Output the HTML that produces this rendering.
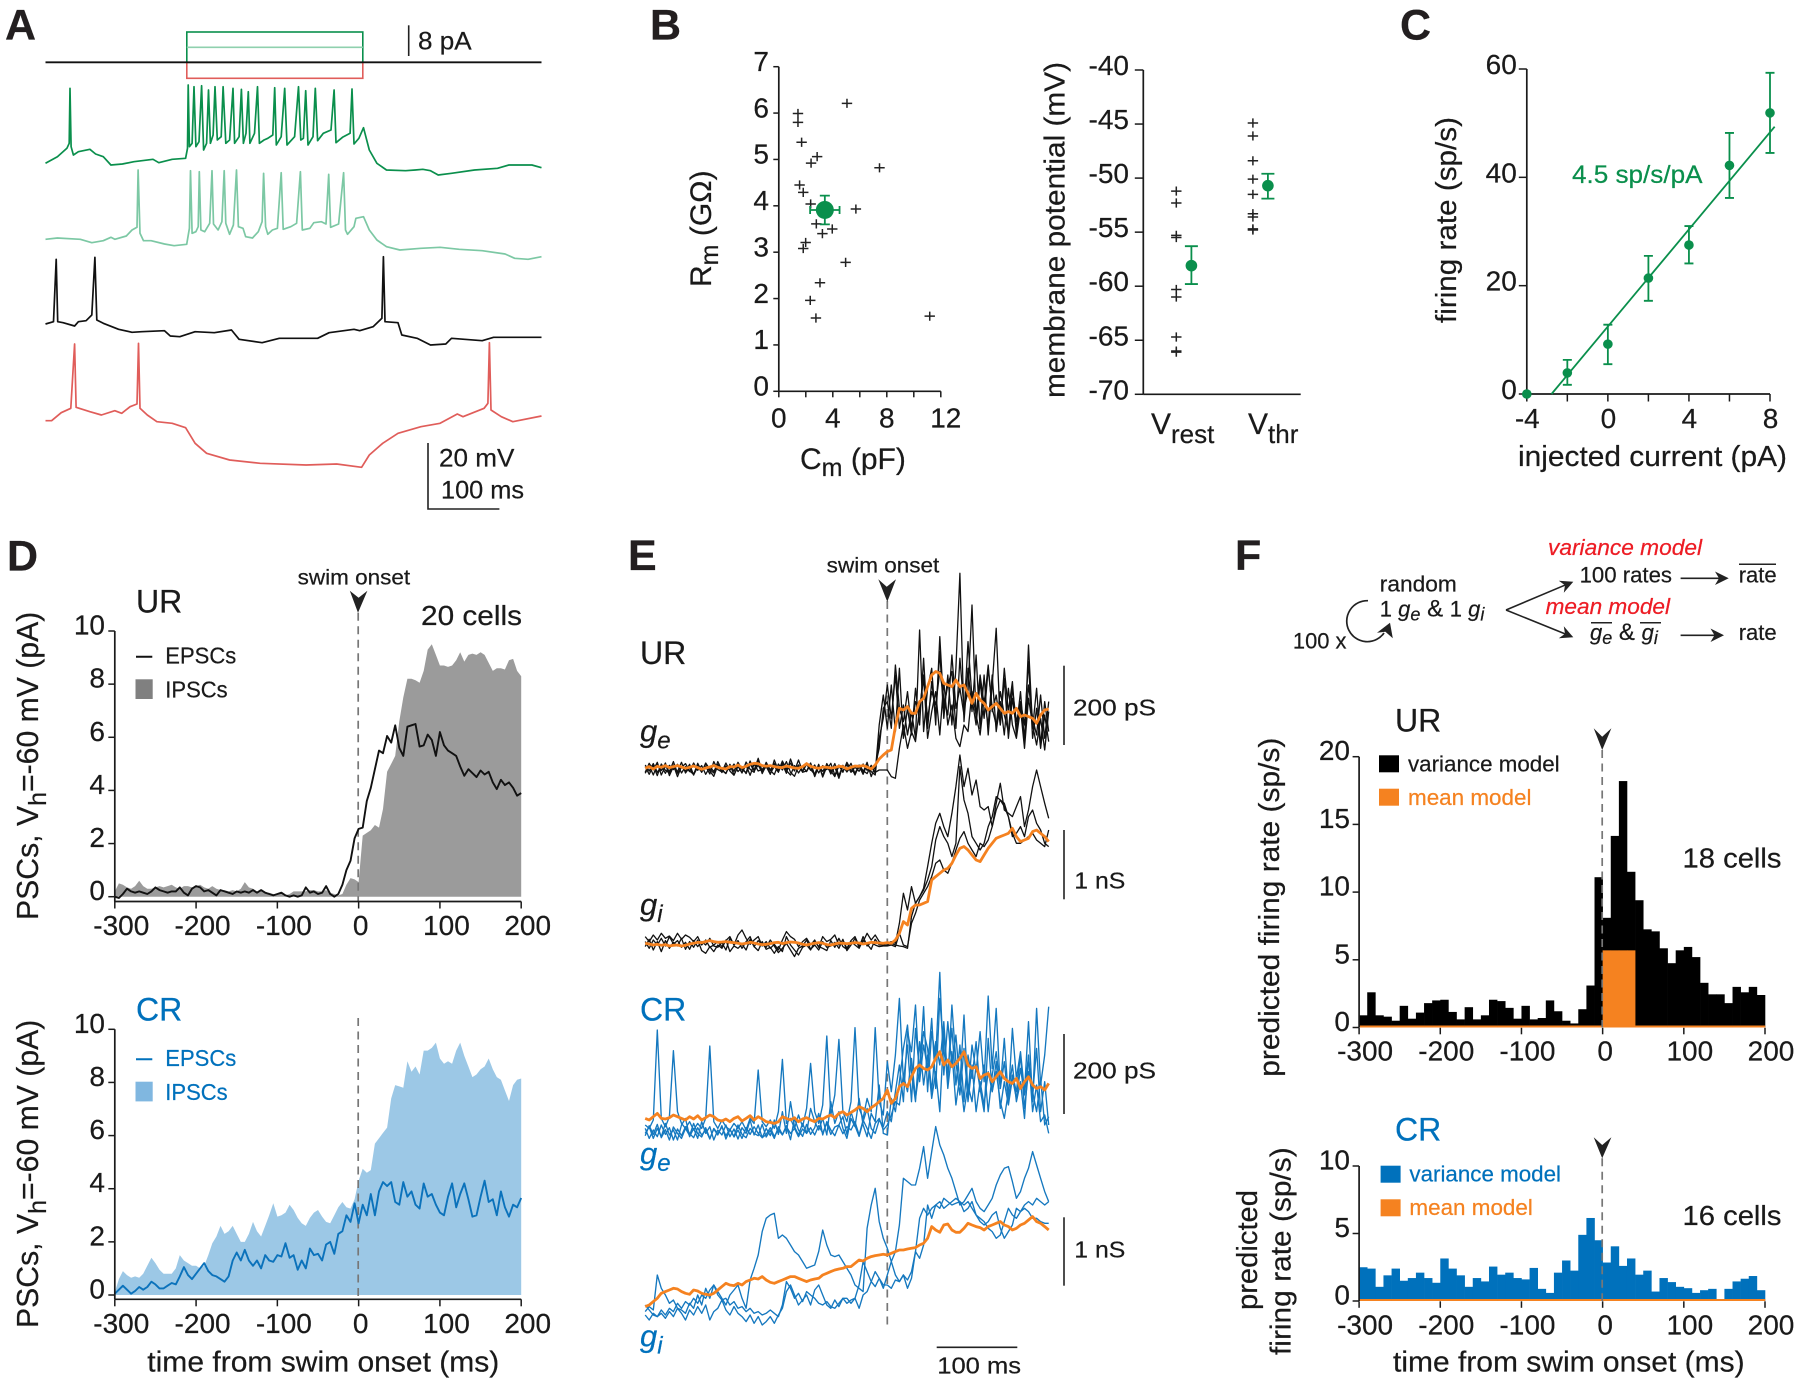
<!DOCTYPE html>
<html lang="en">
<head>
<meta charset="utf-8">
<title>Conductance and firing rate figure</title>
<style>
html,body{margin:0;padding:0;background:#fff;}
svg{display:block;font-family:"Liberation Sans",Arial,sans-serif;fill:#1a1a1a;}
text{stroke:#1a1a1a;stroke-width:.22px;}
.letter{font-weight:bold;font-size:43px;fill:#231f20;}
.blue{fill:#0071bc;stroke:#0071bc;}
.orange{fill:#f58220;stroke:#f58220;}
.red{fill:#ed1c24;stroke:#ed1c24;font-style:italic;}
.green{fill:#0a8f4c;stroke:#0a8f4c;}
.it{font-style:italic;}
</style>
</head>
<body>
<svg id="figure" xmlns="http://www.w3.org/2000/svg" width="1800" height="1385" viewBox="0 0 1800 1385">
<rect x="0" y="0" width="1800" height="1385" fill="#fff"/>

<!-- PANEL A -->
<g id="panel-a">
  <text class="letter" x="5" y="39.5">A</text>
  <rect x="186.8" y="32" width="176" height="30.3" fill="none" stroke="#0a8f4c" stroke-width="1.6"/>
  <line x1="186.8" y1="47.3" x2="362.8" y2="47.3" stroke="#8fd0ae" stroke-width="1.6"/>
  <rect x="186.8" y="62.3" width="176" height="16" fill="none" stroke="#e05d5a" stroke-width="1.6"/>
  <line x1="45.5" y1="62.3" x2="541.5" y2="62.3" stroke="#111" stroke-width="1.8"/>
  <line x1="408.7" y1="25.3" x2="408.7" y2="56" stroke="#222" stroke-width="1.6"/>
  <text x="418" y="49.3" font-size="25" textLength="53.6" lengthAdjust="spacingAndGlyphs">8 pA</text>
  <g id="a-traces"></g>
  <path d="M428 443V509H499.4" fill="none" stroke="#222" stroke-width="1.6"/>
  <text x="439" y="466.7" font-size="25" textLength="75.4" lengthAdjust="spacingAndGlyphs">20 mV</text>
  <text x="441" y="498.3" font-size="25" textLength="83" lengthAdjust="spacingAndGlyphs">100 ms</text>
</g>

<!-- PANEL B -->
<g id="panel-b">
  <text class="letter" x="650" y="39.5">B</text>
  <g id="b-left"></g>
  <g id="b-right"></g>
  <text x="800" y="469" font-size="30">C<tspan dy="7" font-size="25">m</tspan><tspan dy="-7"> (pF)</tspan></text>
  <g transform="translate(711,287) rotate(-90)"><text x="0" y="0" font-size="30">R<tspan dy="7" font-size="25">m</tspan><tspan dy="-7"> (GΩ)</tspan></text></g>
  <g transform="translate(1064.5,398) rotate(-90)"><text x="0" y="0" font-size="29" textLength="336" lengthAdjust="spacingAndGlyphs">membrane potential (mV)</text></g>
  <text x="1151" y="434" font-size="30">V<tspan dy="9" font-size="26">rest</tspan></text>
  <text x="1248" y="434" font-size="30">V<tspan dy="9" font-size="26">thr</tspan></text>
</g>

<!-- PANEL C -->
<g id="panel-c">
  <text class="letter" x="1400" y="39.5">C</text>
  <g id="c-plot"></g>
  <text class="green" x="1572" y="183" font-size="25" textLength="130.5" lengthAdjust="spacingAndGlyphs">4.5 sp/s/pA</text>
  <text x="1518" y="466" font-size="29" textLength="269" lengthAdjust="spacingAndGlyphs">injected current (pA)</text>
  <g transform="translate(1456,323) rotate(-90)"><text x="0" y="0" font-size="29" textLength="206" lengthAdjust="spacingAndGlyphs">firing rate (sp/s)</text></g>
</g>

<!-- PANEL D -->
<g id="panel-d">
  <text class="letter" x="7" y="570.5">D</text>
  <g id="d-ur"></g>
  <g id="d-cr"></g>
  <text x="136" y="612.7" font-size="32">UR</text>
  <text x="297.7" y="584.3" font-size="21" textLength="112.5" lengthAdjust="spacingAndGlyphs">swim onset</text>
  <polygon points="358,612.7 349.8,590.7 358.6,597.7 367.4,590.7" fill="#222"/>
  <text x="421" y="625" font-size="28" textLength="101" lengthAdjust="spacingAndGlyphs">20 cells</text>
  <line x1="136" y1="656.7" x2="152.3" y2="656.7" stroke="#111" stroke-width="2"/>
  <text x="165.3" y="663.3" font-size="23" textLength="71" lengthAdjust="spacingAndGlyphs">EPSCs</text>
  <rect x="135.5" y="679.3" width="17.2" height="19.7" fill="#808080"/>
  <text x="165.3" y="697.7" font-size="23" textLength="62.4" lengthAdjust="spacingAndGlyphs">IPSCs</text>
  <g transform="translate(38,920) rotate(-90)"><text x="0" y="0" font-size="30.2">PSCs,  V<tspan dy="8" font-size="25">h</tspan><tspan dy="-8">=-60 mV (pA)</tspan></text></g>

  <text class="blue" x="136" y="1020.7" font-size="32">CR</text>
  <line x1="136" y1="1059.3" x2="152.3" y2="1059.3" stroke="#0071bc" stroke-width="2"/>
  <text class="blue" x="165.3" y="1066" font-size="23" textLength="71" lengthAdjust="spacingAndGlyphs">EPSCs</text>
  <rect x="135.5" y="1081.7" width="17.2" height="19.7" fill="#80b7e0"/>
  <text class="blue" x="165.3" y="1100" font-size="23" textLength="62.4" lengthAdjust="spacingAndGlyphs">IPSCs</text>
  <g transform="translate(38,1328) rotate(-90)"><text x="0" y="0" font-size="30.2">PSCs,  V<tspan dy="8" font-size="25">h</tspan><tspan dy="-8">=-60 mV (pA)</tspan></text></g>
  <text x="147.3" y="1371.7" font-size="29" textLength="352" lengthAdjust="spacingAndGlyphs">time from swim onset (ms)</text>
</g>

<!-- PANEL E -->
<g id="panel-e">
  <text class="letter" x="628" y="570">E</text>
  <text x="826.7" y="572.7" font-size="21" textLength="112.6" lengthAdjust="spacingAndGlyphs">swim onset</text>
  <line x1="887.3" y1="601" x2="887.3" y2="1326.7" stroke="#777" stroke-width="1.7" stroke-dasharray="8 5.5"/>
  <polygon points="887.3,601.7 878.3,579.3 886.7,586.7 896,579.3" fill="#222"/>
  <g id="e-traces"></g>
  <text x="640" y="664" font-size="32">UR</text>
  <text class="it" x="640" y="741.7" font-size="31">g<tspan dy="7" font-size="24">e</tspan></text>
  <text class="it" x="640" y="915" font-size="31">g<tspan dy="7" font-size="24">i</tspan></text>
  <line x1="1064" y1="665.7" x2="1064" y2="745" stroke="#222" stroke-width="1.6"/>
  <text x="1073" y="715.7" font-size="23" textLength="83" lengthAdjust="spacingAndGlyphs">200 pS</text>
  <line x1="1064" y1="830" x2="1064" y2="899.3" stroke="#222" stroke-width="1.6"/>
  <text x="1074.3" y="888.3" font-size="23" textLength="51" lengthAdjust="spacingAndGlyphs">1 nS</text>
  <text class="blue" x="640" y="1020.7" font-size="32">CR</text>
  <text class="it blue" x="640" y="1164" font-size="31">g<tspan dy="7" font-size="24">e</tspan></text>
  <text class="it blue" x="640" y="1346.7" font-size="31">g<tspan dy="7" font-size="24">i</tspan></text>
  <line x1="1064" y1="1034" x2="1064" y2="1114" stroke="#222" stroke-width="1.6"/>
  <text x="1073" y="1078.3" font-size="23" textLength="83" lengthAdjust="spacingAndGlyphs">200 pS</text>
  <line x1="1064" y1="1217.3" x2="1064" y2="1285.7" stroke="#222" stroke-width="1.6"/>
  <text x="1074.3" y="1257.7" font-size="23" textLength="51" lengthAdjust="spacingAndGlyphs">1 nS</text>
  <line x1="936.7" y1="1347.3" x2="1017.3" y2="1347.3" stroke="#222" stroke-width="1.6"/>
  <text x="937.3" y="1373.3" font-size="23" textLength="83.7" lengthAdjust="spacingAndGlyphs">100 ms</text>
</g>

<!-- PANEL F -->
<g id="panel-f">
  <text class="letter" x="1235" y="570">F</text>
  <g id="f-diagram">
    <text class="red" x="1548" y="555" font-size="22" textLength="154" lengthAdjust="spacingAndGlyphs">variance model</text>
    <text x="1579.6" y="582.7" font-size="22" textLength="92.4" lengthAdjust="spacingAndGlyphs">100 rates</text>
    <line x1="1680.6" y1="578.3" x2="1720" y2="578.3" stroke="#222" stroke-width="1.6"/>
    <polygon points="1728.7,578.3 1715,571.5 1719,578.3 1715,585" fill="#222"/>
    <text x="1738.7" y="582.7" font-size="22" textLength="38" lengthAdjust="spacingAndGlyphs">rate</text>
    <line x1="1739" y1="564.3" x2="1776" y2="564.3" stroke="#222" stroke-width="1.5"/>
    <text class="red" x="1545.6" y="614" font-size="22" textLength="124.4" lengthAdjust="spacingAndGlyphs">mean model</text>
    <text x="1590" y="640" font-size="22"><tspan class="it">g</tspan><tspan class="it" dy="4" font-size="18">e</tspan><tspan dy="-4" font-size="24"> &amp; </tspan><tspan class="it">g</tspan><tspan class="it" dy="4" font-size="18">i</tspan></text>
    <line x1="1591" y1="622.7" x2="1612" y2="622.7" stroke="#222" stroke-width="1.5"/>
    <line x1="1640" y1="622.7" x2="1661" y2="622.7" stroke="#222" stroke-width="1.5"/>
    <line x1="1680.6" y1="635.3" x2="1716" y2="635.3" stroke="#222" stroke-width="1.6"/>
    <polygon points="1724,635.3 1710.5,628.5 1714.5,635.3 1710.5,642" fill="#222"/>
    <text x="1738.7" y="640" font-size="22" textLength="38" lengthAdjust="spacingAndGlyphs">rate</text>
    <line x1="1506" y1="610" x2="1566" y2="584.7" stroke="#222" stroke-width="1.6"/>
    <polygon points="1573.3,581.7 1563.8,592.7 1565,585.2 1558.8,580.7" fill="#222"/>
    <line x1="1506" y1="610" x2="1566" y2="634.3" stroke="#222" stroke-width="1.6"/>
    <polygon points="1573.3,637.3 1558.8,638.3 1565,633.8 1563.8,626.3" fill="#222"/>
    <text x="1379.8" y="591.7" font-size="22" textLength="77" lengthAdjust="spacingAndGlyphs">random</text>
    <text x="1379.8" y="616.7" font-size="22">1 <tspan class="it">g</tspan><tspan class="it" dy="4" font-size="18">e</tspan><tspan dy="-4" font-size="24"> &amp; </tspan><tspan>1 </tspan><tspan class="it">g</tspan><tspan class="it" dy="4" font-size="18">i</tspan></text>
    <text x="1292.9" y="648.3" font-size="22" textLength="53.6" lengthAdjust="spacingAndGlyphs">100 x</text>
    <path d="M1368 600.7A20.5 20.5 0 1 0 1384 633" fill="none" stroke="#222" stroke-width="1.7"/>
    <polygon points="1390,622.7 1392.8,638.3 1385.4,631.7 1377,632.7" fill="#222"/>
  </g>
  <g id="f-ur"></g>
  <g id="f-cr"></g>
  <text x="1395" y="731.7" font-size="32">UR</text>
  <rect x="1379" y="755.3" width="20" height="17" fill="#000"/>
  <text x="1408" y="771.7" font-size="22" textLength="151.6" lengthAdjust="spacingAndGlyphs">variance model</text>
  <rect x="1379" y="788.7" width="20" height="17" fill="#f58220"/>
  <text class="orange" x="1408" y="805" font-size="22" textLength="123.5" lengthAdjust="spacingAndGlyphs">mean model</text>
  <text x="1682.5" y="867.7" font-size="28" textLength="99" lengthAdjust="spacingAndGlyphs">18 cells</text>
  <g transform="translate(1279,1076.7) rotate(-90)"><text x="0" y="0" font-size="29" textLength="339" lengthAdjust="spacingAndGlyphs">predicted firing rate (sp/s)</text></g>
  <text class="blue" x="1395" y="1140.7" font-size="32">CR</text>
  <rect x="1380.6" y="1165.7" width="20" height="17" fill="#0071bc"/>
  <text class="blue" x="1409.4" y="1181.7" font-size="22" textLength="151.6" lengthAdjust="spacingAndGlyphs">variance model</text>
  <rect x="1380.6" y="1199.3" width="20" height="17" fill="#f58220"/>
  <text class="orange" x="1409.4" y="1215" font-size="22" textLength="123.5" lengthAdjust="spacingAndGlyphs">mean model</text>
  <text x="1682.5" y="1225" font-size="28" textLength="99" lengthAdjust="spacingAndGlyphs">16 cells</text>
  <g transform="translate(1257,1310) rotate(-90)"><text x="0" y="0" font-size="29" textLength="120" lengthAdjust="spacingAndGlyphs">predicted</text></g>
  <g transform="translate(1290.3,1355) rotate(-90)"><text x="0" y="0" font-size="29" textLength="207.7" lengthAdjust="spacingAndGlyphs">firing rate (sp/s)</text></g>
  <text x="1393" y="1371.7" font-size="29" textLength="351.6" lengthAdjust="spacingAndGlyphs">time from swim onset (ms)</text>
</g>
</svg>

<script>
// ---------- Panel A: membrane traces, [sample, 0.1 mV above trace start] ----------
const aTraceDarkGreen = [[0,0],[31,20],[56,45],[62,60],[64,225],[67,50],[73,25],[86,35],[116,42],[131,28],[151,20],[171,-5],[201,-2],[231,5],[281,12],[296,2],[331,12],[366,15],[371,45],[373,235],[376,50],[383,60],[388,230],[393,50],[401,65],[408,233],[413,40],[421,60],[426,220],[431,60],[438,85],[443,230],[449,70],[459,80],[464,230],[471,60],[481,70],[490,225],[494,60],[506,80],[512,222],[517,60],[524,90],[530,215],[534,60],[546,90],[554,230],[559,60],[571,70],[581,75],[594,85],[599,227],[603,55],[616,80],[625,225],[631,55],[651,80],[661,230],[667,70],[674,75],[680,218],[686,55],[699,80],[705,225],[711,68],[726,90],[746,100],[754,220],[759,62],[776,78],[796,90],[801,223],[806,58],[819,75],[831,107],[846,40],[866,0],[891,-20],[941,-22],[966,-20],[986,-18],[1006,-22],[1026,-35],[1061,-30],[1121,-20],[1181,-15],[1211,-5],[1271,-5],[1296,-13]];
const aTraceLightGreen = [[0,-3],[31,1],[91,-3],[121,-13],[151,-7],[171,3],[181,-3],[211,7],[226,25],[239,33],[242,205],[247,15],[256,-7],[276,-7],[311,-17],[336,-22],[369,-18],[376,30],[379,203],[383,15],[393,20],[399,35],[402,200],[406,25],[416,20],[429,45],[435,203],[439,43],[451,25],[461,50],[467,203],[471,45],[481,12],[491,40],[499,205],[504,35],[516,30],[523,5],[541,1],[556,20],[566,50],[570,195],[575,35],[581,12],[593,25],[606,30],[616,197],[621,27],[641,35],[656,45],[666,200],[671,25],[691,30],[701,47],[721,50],[733,43],[740,192],[745,33],[766,43],[779,197],[784,25],[789,12],[806,35],[811,60],[831,65],[846,25],[866,-5],[891,-25],[926,-35],[981,-30],[1031,-27],[1081,-33],[1141,-37],[1201,-47],[1226,-60],[1261,-63],[1296,-55]];
const aTraceBlack = [[0,0],[21,7],[28,194],[32,7],[46,4],[76,-6],[86,7],[106,10],[121,27],[129,200],[134,12],[151,2],[191,-16],[226,-25],[251,-23],[311,-20],[326,-36],[351,-38],[391,-23],[441,-26],[486,-18],[506,-46],[566,-56],[611,-43],[711,-43],[741,-26],[806,-16],[821,-20],[856,-8],[879,17],[883,202],[887,7],[921,4],[931,-33],[971,-43],[1006,-63],[1046,-60],[1061,-43],[1141,-50],[1171,-40],[1296,-40]];
const aTraceRed = [[0,0],[16,0],[41,24],[66,37],[76,230],[80,40],[116,27],[146,17],[181,30],[199,22],[221,42],[239,50],[243,232],[247,37],[266,17],[291,-3],[331,-8],[366,-21],[391,-68],[421,-98],[481,-118],[561,-128],[681,-133],[761,-130],[826,-140],[846,-103],[881,-68],[921,-38],[981,-18],[1031,-8],[1076,20],[1091,12],[1146,37],[1156,52],[1160,234],[1164,32],[1191,12],[1221,-3],[1296,14]];

// ---------- Panel B ----------
const bCm = [5.05,1.42,1.42,1.69,2.84,2.39,7.46,1.54,1.81,2.36,5.71,2.78,3.96,3.23,1.99,1.81,4.95,3.05,2.33,2.75,11.18];
const bRm = [6.21,5.99,5.8,5.37,5.06,4.92,4.82,4.45,4.29,4.04,3.93,3.61,3.5,3.4,3.21,3.08,2.78,2.34,1.96,1.58,1.62];
const bMeanCm = 3.41, bMeanRm = 3.91, bErrCm = 1.09, bErrRm = 0.31;
const bRmTicks = [0,1,2,3,4,5,6,7];
const bCmTicks = [0,2,4,6,8,10,12];
const bCmTickLabels = ['0','','4','','8','','12'];
const bVTicks = [-70,-65,-60,-55,-50,-45,-40];
const bVrest = [-51.2,-52.3,-55.3,-55.5,-60.3,-61,-64.7,-66,-66.1];
const bVthr = [-44.9,-46.1,-48.4,-50.1,-51.5,-53.3,-53.6,-54.7,-54.8];
const bVmeans = [-58.1,-50.7];
const bVerrHigh = [-56.3,-49.6];
const bVerrLow = [-59.8,-51.9];

// ---------- Panel C ----------
const cCurrent = [-4,-2,0,2,4,6,8];
const cRate = [0,3.9,9.2,21.4,27.5,42.2,51.9];
const cErrHigh = [0,6.3,12.8,25.5,31,48.2,59.3];
const cErrLow = [0,1.7,5.5,17.2,24.1,36.2,44.5];
const cFitX = [-2.78,8.23];
const cFitY = [0,49.35];
const cRateTicks = [0,20,40,60];
const cCurrentTicks = [-4,-2,0,2,4,6,8];
const cCurrentTickLabels = ['-4','','0','','4','','8'];

// ---------- Panel D (5 ms step from -300 ms) ----------
const dTimeTicks = [-300,-200,-100,0,100,200];
const dPscTicks = [0,2,4,6,8,10];
const dUrIpsc = [.2,.5,.45,.35,.3,.4,.6,.4,.3,.3,.35,.4,.35,.4,.45,.35,.3,.4,.4,.35,.4,.45,.35,.3,.4,.3,.25,.25,.2,.25,.2,.3,.55,.35,.3,.2,.25,.15,.15,.1,.1,.1,.05,.1,.2,.2,.2,.2,.25,.25,.2,.2,.25,.15,.1,.05,.1,.45,.7,.65,.55,2.3,2.4,2.5,2.7,2.6,3.3,4.7,5.0,5.3,6.6,7.5,8.2,8.2,8.15,8.05,8.5,9.3,9.5,9.1,8.7,8.7,8.65,8.7,8.9,9.2,8.85,9.1,9.15,9.1,9.2,9.1,8.8,8.5,8.6,8.6,8.55,8.9,8.95,8.5,8.3];
const dUrEpsc = [0,-.05,.1,.3,.2,.15,.2,.15,.1,.2,.35,.25,.2,.15,.2,.2,.35,.15,.05,.3,.4,.35,.2,.25,.15,.05,.25,.2,.15,.1,.2,.15,.2,.15,.25,.15,.25,.15,.1,.05,.1,.15,.05,0,.05,0,.05,.35,.15,.2,.1,.15,.4,.1,0,.1,.45,1.0,1.35,2.2,2.55,2.6,3.6,4.1,4.8,5.5,5.4,6.05,5.8,6.45,5.6,5.3,6.4,6.45,6.5,5.65,5.7,6.1,5.9,5.3,6.2,5.7,5.5,5.4,5.3,4.9,4.55,4.8,4.65,4.5,4.75,4.6,4.7,4.3,4.05,4.4,4.2,4.3,4.1,3.8,3.9];
const dCrIpsc = [.1,.6,.9,.75,.65,.7,.65,.8,1.1,1.4,1.2,.95,.8,.8,.8,1.0,1.5,1.3,1.2,1.1,1.1,1.0,1.1,1.5,1.95,2.2,2.6,2.3,2.4,2.6,2.3,2.0,2.0,2.3,2.75,2.4,2.2,2.6,3.0,3.45,2.95,3.0,3.1,3.4,3.2,2.9,2.7,2.6,2.9,3.1,3.2,2.95,2.75,2.7,3.0,3.3,3.5,3.3,3.25,3.6,4.3,4.75,4.6,4.7,5.7,5.9,6.1,6.3,7.4,7.9,7.85,7.8,8.8,8.4,8.6,8.3,9.2,9.2,9.3,9.5,8.9,8.7,8.8,8.7,9.2,9.5,9.0,8.6,8.2,8.3,8.5,8.6,8.9,8.5,8.2,8.1,7.7,7.3,7.9,8.1,8.15];
const dCrEpsc = [.05,.2,.35,.2,.05,.15,.3,.2,.3,.5,.4,.25,.25,.35,.45,.4,.7,1.05,.75,.6,.8,1.0,1.2,.9,.75,.7,.6,.5,.7,1.3,1.6,1.3,1.7,1.3,1.1,1.3,1.0,1.5,1.3,1.25,1.5,1.45,1.95,1.4,1.5,.95,1.3,1.0,1.75,1.5,1.55,1.3,1.9,2.0,1.55,2.3,2.4,3.0,2.75,3.45,2.7,3.4,3.0,3.8,3.0,3.9,4.25,4.1,4.25,3.5,3.4,4.25,3.7,3.9,3.4,3.25,4.2,3.7,3.8,3.4,3.1,3.0,3.7,4.2,3.3,3.8,4.2,3.6,2.95,3.0,3.7,4.3,3.5,3.6,3.0,3.9,3.3,2.95,3.4,3.3,3.65];

// ---------- Panel E (5 ms step from -300 ms; display conductance units above baseline) ----------
const eUrGe1 = [10,-8,14,-12,6,-15,9,-4,12,-14,5,-10,16,-6,8,-18,4,-9,11,-13,7,-5,13,-10,3,-16,12,-7,9,-12,18,-5,14,-9,22,-3,16,-8,25,-10,12,-6,10,-14,8,-4,15,-20,6,-8,11,-12,4,-9,13,-6,7,-15,130,220,120,250,110,300,90,180,100,240,130,330,120,260,160,350,150,280,130,300,585,140,300,170,340,120,280,100,250,420,130,270,90,210,120,230,80,370,120,240,70,200,110];
const eUrGe2 = [-12,15,-5,18,-20,7,-10,20,-15,3,14,-8,-18,10,-12,16,-3,-14,20,-6,-16,12,-9,18,-4,-13,22,-6,30,-10,5,-18,25,-7,12,-15,28,-5,10,-12,-8,16,-20,9,-22,14,-7,-25,10,-12,18,-5,-14,7,-18,12,-10,-20,90,150,250,150,280,120,190,100,170,90,415,110,240,300,130,395,180,250,290,120,330,180,230,490,150,280,190,310,170,220,130,300,170,260,100,200,130,320,90,180,60,160,80];
const eUrGe3 = [5,-18,8,-22,13,-6,-14,10,-25,6,-9,12,-20,4,-11,14,-8,-24,9,-5,-15,10,-19,6,-12,9,-21,13,-8,-3,11,-16,6,-12,17,-7,-20,8,-14,5,-10,12,-25,6,-9,11,-17,4,-30,8,-11,6,-20,10,-7,-16,9,-12,-5,-5,-5,-25,-30,60,130,60,110,80,180,270,90,170,230,100,260,130,190,90,65,130,110,230,160,100,210,130,280,110,200,100,240,130,90,180,60,210,130,70,150,55,170];
const eUrGe4 = [-15,8,-20,12,-7,16,-22,5,-10,18,-14,3,-20,15,-9,6,-17,20,-4,-11,16,-8,-21,7,-14,19,-3,-12,24,-16,9,-6,-19,13,-5,20,-12,-24,7,-9,16,-4,-18,12,-26,5,-11,14,-22,9,-6,15,-16,4,-12,18,-25,6,60,180,200,120,310,180,140,230,120,200,170,280,150,230,190,290,210,160,340,180,240,160,380,210,130,260,150,300,180,130,230,160,110,240,140,190,90,250,150,100,220,90,200];
const eUrGeMean = [0,5,-2,6,3,8,2,5,8,4,0,3,7,2,-3,1,4,8,3,0,-2,5,4,10,2,6,12,15,14,8,6,8,5,3,2,7,4,1,0,5,14,6,2,0,4,3,1,2,6,5,-2,3,7,6,8,4,-2,10,28,40,50,55,125,180,175,185,165,165,200,210,245,280,290,285,255,250,245,265,245,250,225,195,225,205,195,175,185,195,180,165,170,165,180,155,160,155,150,135,160,175,178];
const eUrGi1 = [20,5,25,10,30,15,22,8,30,12,25,18,5,20,-5,10,-12,-5,5,-10,8,20,-5,25,40,15,-3,10,20,-8,5,-15,-3,-20,10,35,20,12,-10,5,15,-5,10,-12,20,5,12,25,-5,10,-15,8,20,-8,5,30,10,25,5,0,0,5,0,60,150,100,170,120,140,165,230,300,360,390,350,320,390,470,565,470,525,445,490,410,400,410,350,420,480,400,390,380,410,440,350,400,470,520,470,420,375];
const eUrGi2 = [-10,12,-20,5,-25,8,-15,3,-8,15,-18,5,-12,10,-22,-30,-10,-25,-5,-15,10,-25,-8,-15,-3,-20,12,-10,-22,5,-18,-12,-30,-10,-25,20,-5,-20,-35,-12,-5,-20,5,-10,-15,-22,8,-12,15,-10,-18,5,-5,-15,10,-2,-18,12,-5,-5,-5,0,-5,-8,-10,-15,80,120,140,160,190,230,310,350,320,300,260,300,530,430,390,320,300,280,300,350,380,440,430,420,380,320,330,350,320,380,400,360,340,300,290];
const eUrGi3 = [5,-15,10,-5,15,-8,20,-2,8,-12,3,-18,8,-10,5,-5,15,-8,-12,2,-20,15,-5,8,-15,5,20,-10,8,-3,-12,10,-8,-28,-15,0,-20,-40,-15,-8,10,-18,-5,-20,5,-12,-8,3,-15,12,-22,-5,15,-12,20,-8,3,-5,-10,-8,-8,-5,-10,30,-5,-10,60,90,130,150,170,200,240,250,220,210,240,280,315,335,300,280,260,300,290,310,350,400,430,410,380,330,300,300,310,320,330,310,300,290,340];
const eUrGiMean = [0,-2,-5,-3,-6,-4,-8,-6,-5,-8,-6,-2,0,3,2,5,8,5,3,4,5,3,2,0,-2,0,3,1,-2,-4,-3,-1,2,3,-1,2,4,3,1,-3,-5,-2,0,2,0,-4,-5,-2,1,0,-1,0,2,1,-2,0,3,2,1,0,2,0,10,30,65,55,105,115,115,120,125,190,200,210,220,225,240,265,285,290,280,265,250,245,265,285,300,315,320,325,330,345,320,305,310,315,335,340,330,320,305];
const eCrGe1 = [20,10,35,305,40,15,45,243,60,25,10,30,5,25,10,40,257,30,10,35,15,5,25,10,30,5,40,25,185,30,15,35,10,60,217,25,40,10,50,15,70,205,60,25,80,287,50,110,277,60,30,90,312,70,40,100,60,312,90,50,210,120,230,400,150,260,90,310,180,375,120,300,220,478,170,330,200,290,140,350,110,260,180,300,150,407,190,370,130,280,100,310,160,240,120,330,90,370,140,230,375];
const eCrGe2 = [-5,15,-20,10,-15,25,-10,5,-25,20,40,-15,10,-20,30,-5,15,-25,5,-10,20,-15,8,-22,12,-5,35,-10,20,-18,10,-12,35,-8,60,-5,90,15,-10,25,-5,70,30,5,40,-10,90,25,60,10,-20,40,15,100,20,-15,55,30,140,-5,-10,100,60,150,250,320,180,90,270,140,230,100,180,60,300,130,240,80,170,60,140,90,200,130,60,280,120,180,90,40,120,200,90,150,40,220,120,60,160,20,45];
const eCrGe3 = [10,-20,5,-15,20,-8,12,-25,8,-12,15,-5,-18,12,-10,5,-22,10,-6,14,-12,8,-16,5,-20,12,-8,15,-5,-18,-8,12,-14,6,-10,15,-5,10,-15,8,-5,12,-10,18,-4,25,-8,14,20,-6,15,5,30,-10,35,10,-20,25,40,5,20,50,90,80,170,120,220,100,190,300,250,120,270,200,330,150,380,210,110,250,90,200,60,150,80,180,120,210,70,150,80,160,100,190,110,230,60,140,30,50,-5];
const eCrGe4 = [-12,18,-8,22,-18,6,-25,14,-5,-20,10,-12,25,-6,-16,12,-20,8,-10,18,-22,6,-14,20,-8,-18,10,-5,-12,22,-16,4,-20,15,-9,18,-24,40,5,-14,22,-8,12,55,-10,30,5,-12,20,45,-8,60,18,-14,30,70,10,-5,35,15,60,30,120,200,90,300,240,380,150,260,190,340,130,400,240,180,310,140,260,90,230,160,270,120,200,60,170,240,130,210,90,170,120,230,70,180,110,250,60,150,20];
const eCrGeMean = [40,35,45,55,40,38,42,50,45,40,35,45,38,48,35,42,50,45,35,32,38,30,40,45,32,40,48,35,45,38,30,28,25,30,45,40,35,42,30,38,42,35,30,40,38,45,50,42,55,60,50,58,65,75,70,60,72,80,90,100,125,85,100,135,145,135,165,190,200,190,185,195,220,240,200,215,195,205,220,240,200,190,195,160,170,175,150,165,180,160,150,145,160,130,150,165,140,130,135,125,145];
const eCrGi1 = [20,35,25,130,90,70,45,55,30,25,15,45,30,70,40,90,60,100,80,60,40,70,85,100,60,30,115,150,190,260,300,310,315,240,250,240,220,200,190,170,150,155,160,200,265,220,190,185,190,170,150,130,100,90,80,270,340,390,290,240,210,170,200,280,420,410,400,400,450,515,420,500,575,520,490,450,420,380,340,350,370,390,350,330,320,340,360,400,430,450,455,410,360,380,420,450,500,460,420,380,350];
const eCrGi2 = [40,25,10,5,15,0,20,5,30,15,-5,25,10,35,15,40,-5,20,30,55,25,10,35,15,5,-10,10,-15,5,-20,-10,5,-15,10,30,80,100,70,40,55,70,40,85,100,70,40,30,55,35,60,60,45,60,30,70,80,110,140,120,100,100,90,115,110,130,115,140,200,300,330,310,330,340,330,360,350,340,345,350,320,330,350,310,300,290,270,260,240,250,290,330,310,300,320,330,320,300,300,290,285,285];
const eCrGi3 = [10,-5,15,5,25,10,30,20,45,30,50,40,60,45,70,60,85,100,70,55,60,40,50,30,35,20,30,15,20,10,15,25,15,5,40,110,90,60,75,50,80,70,60,45,40,50,35,30,45,60,45,55,60,100,170,140,110,95,120,90,130,170,130,110,130,90,120,200,180,220,340,300,340,350,330,340,350,360,350,340,350,330,310,290,280,290,310,320,270,240,260,280,330,320,340,350,340,360,350,340,350];
const eCrGiMean = [35,40,50,60,75,80,85,90,88,80,75,72,85,82,75,72,70,75,85,95,105,100,98,105,100,110,115,120,118,125,115,108,105,110,115,120,125,125,120,115,110,115,118,120,130,135,140,145,148,150,155,155,165,175,172,180,185,188,190,192,190,195,200,205,205,208,210,212,220,225,240,275,265,258,280,283,265,258,258,270,285,280,275,272,265,275,280,285,290,280,275,265,270,280,285,295,305,290,285,275,265];

// ---------- Panel F (10 ms bins from -300 ms) ----------
const fTimeTicks = [-300,-200,-100,0,100,200];
const fUrTicks = [0,5,10,15,20];
const fCrTicks = [0,5,10];
const fUrVariance = [.9,2.6,.9,.8,.5,1.6,.65,1.1,1.8,2.0,2.05,1.15,.6,1.5,.6,.9,2.05,1.95,1.45,.65,1.6,.6,.7,2.0,1.2,.5,.3,1.35,3.1,11.1,8.1,14.15,18.2,11.5,9.4,7.25,7.1,5.85,4.75,5.7,5.95,5.2,3.3,2.45,2.45,1.8,3.0,2.6,3.0,2.4];
const fUrMean = [0,0,0,0,0,0,0,0,0,0,0,0,0,0,0,0,0,0,0,0,0,0,0,0,0,0,0,0,0,0,5.55,5.55,5.55,5.55,0,0,0,0,0,0,0,0,0,0,0,0,0,0,0,0];
const fCrVariance = [2.5,2.4,1.05,1.9,2.4,1.5,1.7,2.1,1.7,1.35,3.15,2.4,1.9,1.05,1.7,1.45,2.55,1.95,2.1,1.7,1.6,2.45,.9,.6,2.1,3.0,2.25,4.9,6.15,4.5,2.85,4.05,2.6,3.15,1.95,2.25,.7,1.7,1.4,1.05,.95,.6,.8,.9,.05,.9,1.45,1.65,1.85,.8];

// ---------- helpers ----------
const NS = 'http://www.w3.org/2000/svg';
function svgEl(tag, attrs, parent) {
  const n = document.createElementNS(NS, tag);
  for (const k in attrs) n.setAttribute(k, attrs[k]);
  parent.appendChild(n);
  return n;
}
function linear(d0, d1, r0, r1) {
  return v => r0 + (v - d0) * (r1 - r0) / (d1 - d0);
}
function polyPath(xs, ys) {
  let d = '';
  for (let i = 0; i < xs.length; i++) d += (i ? 'L' : 'M') + xs[i].toFixed(1) + ' ' + ys[i].toFixed(1);
  return d;
}
const AXIS = '#1a1a1a';

function yAxis(g, x, yTop, yBottom, scale, ticks, labels, tickLen, labelX, dy, size) {
  const ax = svgEl('line', {x1:x, y1:yTop, x2:x, y2:yBottom, stroke:AXIS, 'stroke-width':1.7}, g);
  
  
  ticks.forEach((tv, i) => {
    const y = scale(tv);
    const t = svgEl('line', {x1:x - tickLen, y1:y, x2:x, y2:y, stroke:AXIS, 'stroke-width':1.5}, g);
    
    
    const l = svgEl('text', {x:labelX, y:y + dy, 'text-anchor':'end', 'font-size':size}, g);
    l.textContent = labels[i];
    
    
  });
}
function xAxis(g, y, xLeft, xRight, scale, ticks, labels, tickLen, labelY, dxFn, size) {
  const ax = svgEl('line', {x1:xLeft, y1:y, x2:xRight, y2:y, stroke:AXIS, 'stroke-width':1.7}, g);
  
  
  ticks.forEach((tv, i) => {
    const x = scale(tv);
    const t = svgEl('line', {x1:x, y1:y, x2:x, y2:y + tickLen, stroke:AXIS, 'stroke-width':1.5}, g);
    
    
    if (labels[i] !== '') {
      const l = svgEl('text', {x:x + dxFn(labels[i]), y:labelY, 'text-anchor':'middle', 'font-size':size}, g);
      l.textContent = labels[i];
      
      
    }
  });
}
function drawCross(g, x, y) {
  const p = svgEl('path', {d:`M${x - 5.2} ${y}H${x + 5.2}M${x} ${y - 4.6}V${y + 4.6}`, stroke:'#222', 'stroke-width':1.5, fill:'none'}, g);
  
  
}
function drawVerr(g, x, yHi, yLo, cap) {
  const p = svgEl('path', {d:`M${x - cap} ${yHi}H${x + cap}M${x} ${yHi}V${yLo}M${x - cap} ${yLo}H${x + cap}`, stroke:'#0a8f4c', 'stroke-width':1.8, fill:'none'}, g);
  
  
}

// ---------- Panel A ----------
const aX = s => 45.5 + s / 2.613;
function drawATrace(pts, base, color, name) {
  const xs = pts.map(p => aX(p[0]));
  const ys = pts.map(p => (base - p[1]) / 3);
  const path = svgEl('path', {d:polyPath(xs, ys), fill:'none', stroke:color, 'stroke-width':1.7, 'stroke-linejoin':'round'}, document.getElementById('a-traces'));
  
  
}
drawATrace(aTraceDarkGreen, 490, '#0a8f4c', 'trace-strong-depolarizing');
drawATrace(aTraceLightGreen, 715, '#7cc8a4', 'trace-weak-depolarizing');
drawATrace(aTraceBlack, 972, '#111111', 'trace-no-current');
drawATrace(aTraceRed, 1262, '#e05d5a', 'trace-hyperpolarizing');

// ---------- Panel B ----------
(function () {
  const g = document.getElementById('b-left');
  const x = linear(0, 12, 778.8, 940.8);
  const y = linear(0, 7, 391.3, 66.7);
  yAxis(g, 778.8, 66.7, 391.3, y, bRmTicks, bRmTicks.map(String), 5.5, 769, 4.2, 28);
  xAxis(g, 391.3, 778.8, 940.8, x, bCmTicks, bCmTickLabels, 6, 427.7, l => l === '12' ? 5 : 0, 28);
  bCm.forEach((c, i) => drawCross(g, x(c), y(bRm[i])));
  const h = svgEl('path', {d:`M${x(bMeanCm - bErrCm)} ${y(bMeanRm) - 4}v8M${x(bMeanCm - bErrCm)} ${y(bMeanRm)}H${x(bMeanCm + bErrCm)}M${x(bMeanCm + bErrCm)} ${y(bMeanRm) - 4}v8`, stroke:'#0a8f4c', 'stroke-width':1.8, fill:'none'}, g);
  
  
  drawVerr(g, x(bMeanCm), y(bMeanRm + bErrRm), y(bMeanRm - bErrRm), 5);
  const m = svgEl('circle', {cx:x(bMeanCm), cy:y(bMeanRm), r:9, fill:'#0a8f4c'}, g);
  
  

  const g2 = document.getElementById('b-right');
  const yV = linear(-70, -40, 394.3, 70);
  yAxis(g2, 1143.3, 70, 394.3, yV, bVTicks, bVTicks.map(String), 8.5, 1129, 5, 28);
  const ax = svgEl('line', {x1:1143.3, y1:394.3, x2:1300.7, y2:394.3, stroke:AXIS, 'stroke-width':1.7}, g2);
  
  
  bVrest.forEach(v => drawCross(g2, 1176.3, yV(v)));
  bVthr.forEach(v => drawCross(g2, 1252.9, yV(v)));
  [1191.4, 1267.9].forEach((px, i) => {
    drawVerr(g2, px, yV(bVerrHigh[i]), yV(bVerrLow[i]), 6.5);
    const c = svgEl('circle', {cx:px, cy:yV(bVmeans[i]), r:5.8, fill:'#0a8f4c'}, g2);
    
    
  });
})();

// ---------- Panel C ----------
(function () {
  const g = document.getElementById('c-plot');
  const x = linear(-4, 8, 1526.8, 1770);
  const y = linear(0, 60, 394, 69);
  yAxis(g, 1526.8, 69, 394, y, cRateTicks, cRateTicks.map(String), 8, 1516.8, 5, 28);
  xAxis(g, 394, 1526.8, 1770, x, cCurrentTicks, cCurrentTickLabels, 7.5, 428, () => 0.5, 28);
  const fit = svgEl('line', {x1:x(cFitX[0]), y1:y(cFitY[0]), x2:x(cFitX[1]), y2:y(cFitY[1]), stroke:'#0a8f4c', 'stroke-width':1.8}, g);
  
  
  cCurrent.forEach((c, i) => {
    if (cErrHigh[i] !== cErrLow[i]) drawVerr(g, x(c), y(cErrHigh[i]), y(cErrLow[i]), 4.5);
    const p = svgEl('circle', {cx:x(c), cy:y(cRate[i]), r:4.8, fill:'#0a8f4c'}, g);
    
    
  });
})();

// ---------- Panel D ----------
function drawPsc(g, y0Px, yTopPx, axisPx, labelY, ipsc, epsc, areaColor, lineColor, dashTop) {
  const x = linear(-300, 200, 114.8, 521.2);
  const y = linear(0, 10, y0Px, yTopPx);
  const tsI = ipsc.map((_, i) => -300 + i * 5);
  const tsE = epsc.map((_, i) => -300 + i * 5);
  const area = svgEl('path', {d:polyPath(tsI.map(x), ipsc.map(y)) + `L${x(tsI[tsI.length - 1])} ${y(0)}L${x(tsI[0])} ${y(0)}Z`, fill:areaColor}, g);
  
  
  const dash = svgEl('line', {x1:358.2, y1:dashTop, x2:358.2, y2:axisPx, stroke:'#777', 'stroke-width':1.7, 'stroke-dasharray':'8 5.5'}, g);
  
  
  const line = svgEl('path', {d:polyPath(tsE.map(x), epsc.map(y)), fill:'none', stroke:lineColor, 'stroke-width':1.9, 'stroke-linejoin':'round'}, g);
  
  
  yAxis(g, 114.8, yTopPx, axisPx, y, dPscTicks, dPscTicks.map(String), 6.5, 105, 3.5, 28);
  xAxis(g, axisPx, 114.8, 521.2, x, dTimeTicks, dTimeTicks.map(String), 7, labelY, l => l === '0' ? 2 : 6.5, 28);
}
drawPsc(document.getElementById('d-ur'), 896.7, 631, 901.5, 935, dUrIpsc, dUrEpsc, '#9b9b9b', '#111111', 612.7);
drawPsc(document.getElementById('d-cr'), 1295, 1029.3, 1299.3, 1333, dCrIpsc, dCrEpsc, '#9cc8e6', '#0b72bb', 1018);

// ---------- Panel E ----------
(function () {
  const g = document.getElementById('e-traces');
  const x = linear(0, 100, 887.3, 968);
  function draw(values, base, color, width, name) {
    const xs = values.map((_, i) => x(-300 + i * 5));
    const ys = values.map(v => base - v / 3);
    const p = svgEl('path', {d:polyPath(xs, ys), fill:'none', stroke:color, 'stroke-width':width, 'stroke-linejoin':'round'}, g);
    
    
  }
  [eUrGe1, eUrGe2, eUrGe3, eUrGe4].forEach(v => draw(v, 768.3, '#111', 1.3, 'ur-ge-trial'));
  draw(eUrGeMean, 768.3, '#f58220', 2.8, 'ur-ge-mean');
  [eUrGi1, eUrGi2, eUrGi3].forEach(v => draw(v, 943.3, '#111', 1.3, 'ur-gi-trial'));
  draw(eUrGiMean, 943.3, '#f58220', 2.8, 'ur-gi-mean');
  [eCrGe1, eCrGe2, eCrGe3, eCrGe4].forEach(v => draw(v, 1131.7, '#1578bf', 1.35, 'cr-ge-trial'));
  draw(eCrGeMean, 1131.7, '#f58220', 2.8, 'cr-ge-mean');
  [eCrGi1, eCrGi2, eCrGi3].forEach(v => draw(v, 1318.3, '#1578bf', 1.35, 'cr-gi-trial'));
  draw(eCrGiMean, 1318.3, '#f58220', 2.8, 'cr-gi-mean');
})();

// ---------- Panel F ----------
function drawHist(g, y0, yMaxPx, yMaxVal, ticks, variance, mean, color, labelY, arrowTip, arrowTop, arrowNotch) {
  const x = linear(-300, 200, 1359.1, 1765);
  const y = linear(0, yMaxVal, y0, yMaxPx);
  variance.forEach((v, i) => {
    const t0 = -300 + i * 10;
    const r = svgEl('rect', {x:x(t0), y:y(v), width:x(t0 + 10) - x(t0) + 0.3, height:y(0) - y(v), fill:color}, g);
    
    
  });
  mean.forEach((v, i) => {
    const t0 = -300 + i * 10;
    const r = svgEl('rect', {x:x(t0), y:y(v) - 2, width:x(t0 + 10) - x(t0) + 0.3, height:y(0) - y(v) + 2, fill:'#f58220'}, g);
    
    
  });
  const dash = svgEl('line', {x1:1602.2, y1:arrowTip, x2:1602.2, y2:y0, stroke:'#777', 'stroke-width':1.7, 'stroke-dasharray':'8 5.5'}, g);
  
  
  const arrow = svgEl('polygon', {points:`1602.2,${arrowTip} 1593.7,${arrowTop} 1602.2,${arrowNotch} 1611.4,${arrowTop}`, fill:'#222'}, g);
  
  
  yAxis(g, 1359.1, yMaxPx, y0, y, ticks, ticks.map(String), 6.5, 1350, 3.5, 28);
  xAxis(g, y0 + 0.3, 1359.1, 1359.1, x, fTimeTicks, fTimeTicks.map(String), 6.5, labelY, l => l === '0' ? 2.5 : 6, 28);
}
drawHist(document.getElementById('f-ur'), 1027.5, 756.7, 20, fUrTicks, fUrVariance, fUrMean, '#000', 1060.7, 750, 728.3, 736.7);
drawHist(document.getElementById('f-cr'), 1301, 1166, 10, fCrTicks, fCrVariance, fCrVariance.map(() => 0), '#0071bc', 1334.3, 1158.3, 1137.3, 1145);
</script>
</body>
</html>
